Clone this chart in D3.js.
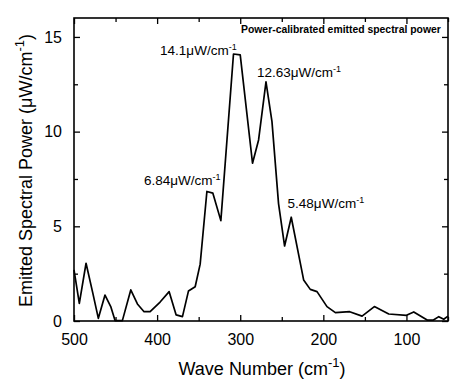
<!DOCTYPE html>
<html>
<head>
<meta charset="utf-8">
<script src="https://cdn.jsdelivr.net/npm/d3@7"></script>
<style>
  html, body { margin: 0; padding: 0; background: #fff; }
  svg { display: block; }
  text { font-family: "Liberation Sans", Arial, Helvetica, sans-serif; fill: #000; }
</style>
</head>
<body>
<svg id="chart" width="474" height="390"></svg>
<script>
// ---- data ----
const waveNumber = [500, 493.6, 485.5, 477.5, 470.7, 462.7, 455.8, 450.6, 441.8, 431.7, 423.7, 415.7, 408.4,
  396.4, 385.5, 377.1, 369.5, 362.3, 354.2, 348.2, 340.1, 332.9, 323.3, 308.1, 300, 285.2, 277.9, 269.0,
  261.8, 253.9, 246.6, 238.6, 223.7, 215.7, 207.6, 195.6, 185.5, 168.3, 153.4, 138.6, 121.3, 100, 91.2,
  75.1, 67.5, 61.1, 55.1, 50];
const power = [2.7, 0.93, 3.05, 1.5, 0.14, 1.37, 0.76, 0.02, 0.02, 1.64, 0.9, 0.49, 0.49,
  1.0, 1.55, 0.32, 0.23, 1.58, 1.81, 3.0, 6.84, 6.75, 5.3, 14.1, 14.05, 8.33, 9.56, 12.63,
  10.53, 6.2, 3.96, 5.48, 2.17, 1.67, 1.55, 0.76, 0.44, 0.49, 0.26, 0.76, 0.37, 0.3, 0.48,
  0.05, 0.05, 0.23, 0.09, 0.26];

const xMajorTicks = [500, 400, 300, 200, 100];
const xMinorTicks = [450, 350, 250, 150, 50];
const yMajorTicks = [0, 5, 10, 15];
const yMinorTicks = [2.5, 7.5, 12.5];

const peakLabels = ["14.1", "12.63", "6.84", "5.48"];
const peakLabelWave = [396.4, 279.9, 415.7, 243];
const peakLabelValue = [14.05, 12.9, 7.18, 5.95];

const legendText = "Power-calibrated emitted spectral power";
const xTitle = "Wave Number (cm";
const yTitle = "Emitted Spectral Power (\u03BCW/cm";

// ---- layout ----
const svg = d3.select("#chart");
const L = 74, R = 448, T = 18, B = 321;

const x = d3.scaleLinear().domain([500, 50]).range([L, R]);
const y = d3.scaleLinear().domain([0, 16]).range([B, T]);

// frame
svg.append("rect")
  .attr("x", L).attr("y", T).attr("width", R - L).attr("height", B - T)
  .attr("fill", "none").attr("stroke", "#000").attr("stroke-width", 1.6);

// axes with inward ticks
function styleAxis(g) {
  g.select(".domain").remove();
  g.selectAll(".tick line").attr("stroke", "#000").attr("stroke-width", 1.3);
  g.selectAll(".tick text").style("font-size", "16px").attr("fill", "#000");
}
// bottom
svg.append("g").attr("transform", `translate(0,${B})`)
  .call(d3.axisBottom(x).tickValues(xMajorTicks).tickSizeInner(-6).tickSizeOuter(0).tickPadding(13).tickFormat(d3.format("d")))
  .call(styleAxis);
svg.append("g").attr("transform", `translate(0,${B})`)
  .call(d3.axisBottom(x).tickValues(xMinorTicks).tickSizeInner(-4).tickSizeOuter(0).tickFormat(""))
  .call(styleAxis);
// top
svg.append("g").attr("transform", `translate(0,${T})`)
  .call(d3.axisTop(x).tickValues(xMajorTicks).tickSizeInner(-6).tickSizeOuter(0).tickFormat(""))
  .call(styleAxis);
svg.append("g").attr("transform", `translate(0,${T})`)
  .call(d3.axisTop(x).tickValues(xMinorTicks).tickSizeInner(-4).tickSizeOuter(0).tickFormat(""))
  .call(styleAxis);
// left
svg.append("g").attr("transform", `translate(${L},0)`)
  .call(d3.axisLeft(y).tickValues(yMajorTicks).tickSizeInner(-6).tickSizeOuter(0).tickPadding(12).tickFormat(d3.format("d")))
  .call(styleAxis);
svg.append("g").attr("transform", `translate(${L},0)`)
  .call(d3.axisLeft(y).tickValues(yMinorTicks).tickSizeInner(-4).tickSizeOuter(0).tickFormat(""))
  .call(styleAxis);
// right
svg.append("g").attr("transform", `translate(${R},0)`)
  .call(d3.axisRight(y).tickValues(yMajorTicks).tickSizeInner(-6).tickSizeOuter(0).tickFormat(""))
  .call(styleAxis);
svg.append("g").attr("transform", `translate(${R},0)`)
  .call(d3.axisRight(y).tickValues(yMinorTicks).tickSizeInner(-4).tickSizeOuter(0).tickFormat(""))
  .call(styleAxis);

// data line
const pts = waveNumber.map((w, i) => [w, power[i]]);
svg.append("path")
  .datum(pts)
  .attr("fill", "none")
  .attr("stroke", "#000")
  .attr("stroke-width", 1.7)
  .attr("stroke-linejoin", "round")
  .attr("d", d3.line().x(d => x(d[0])).y(d => y(d[1])));

// peak annotations
peakLabels.forEach((lab, i) => {
  const t = svg.append("text")
    .attr("x", x(peakLabelWave[i]))
    .attr("y", y(peakLabelValue[i]))
    .style("font-size", "13.5px");
  t.append("tspan").text(lab + "\u03BCW/cm");
  t.append("tspan").attr("dy", -5).style("font-size", "9px").text("-1");
});

// legend text
svg.append("text")
  .attr("x", 241).attr("y", 33)
  .style("font-size", "10.4px").style("font-weight", "bold")
  .text(legendText);

// x title
const xt = svg.append("text")
  .attr("x", (L + R) / 2 + 1).attr("y", 375)
  .attr("text-anchor", "middle")
  .style("font-size", "18px");
xt.append("tspan").text(xTitle);
xt.append("tspan").attr("dy", -8).style("font-size", "13px").text("-1");
xt.append("tspan").attr("dy", 8).text(")");

// y title
const yt = svg.append("text")
  .attr("transform", `translate(32,${(T + B) / 2 + 1}) rotate(-90)`)
  .attr("text-anchor", "middle")
  .style("font-size", "18px");
yt.append("tspan").text(yTitle);
yt.append("tspan").attr("dy", -8).style("font-size", "13px").text("-1");
yt.append("tspan").attr("dy", 8).text(")");
</script>
</body>
</html>
